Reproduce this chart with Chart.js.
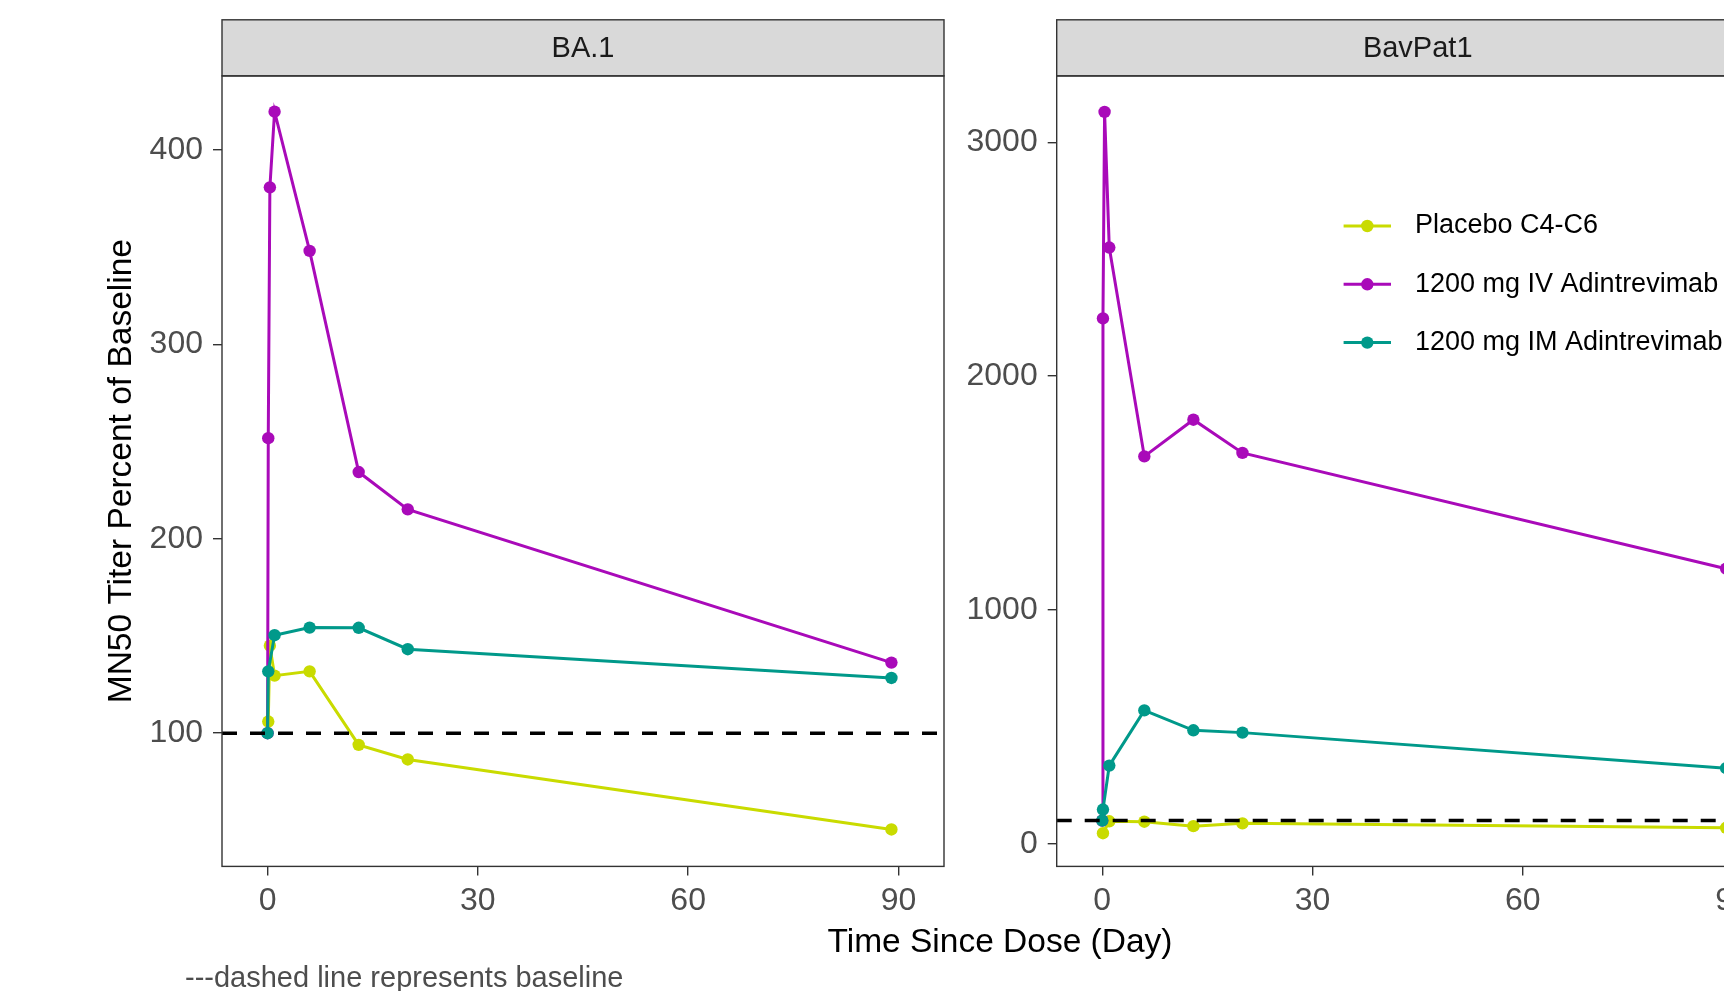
<!DOCTYPE html>
<html lang="en">
<head>
    <meta charset="UTF-8">
    <title>MN50 Titer Percent of Baseline</title>
    <script src="https://cdn.jsdelivr.net/npm/chart.js"></script>
    <style>
        html, body { margin: 0; padding: 0; background: #fff; }
        body { position: relative; width: 1724px; height: 991px; overflow: hidden;
               font-family: "Liberation Sans", Arial, Helvetica, sans-serif; }
        canvas { position: absolute; top: 0; }
        #xTitle { position: absolute; left: 1000px; top: 924px; transform: translateX(-50%);
                  font-size: 33.5px; line-height: 33.5px; color: #000; white-space: nowrap; }
        #caption { position: absolute; left: 185px; top: 963px; font-size: 29px;
                   line-height: 29px; color: #4d4d4d; white-space: nowrap; }
    </style>
</head>
<body>
    <canvas id="ba1Chart" width="1000" height="991" style="left:0px"></canvas>
    <canvas id="bavChart" width="860" height="991" style="left:940px"></canvas>
    <div id="xTitle">Time Since Dose (Day)</div>
    <div id="caption">---dashed line represents baseline</div>

    <script>
        // series names and colours
        const seriesNames = ['Placebo C4-C6', '1200 mg IV Adintrevimab', '1200 mg IM Adintrevimab'];
        const seriesColors = ['#c9db00', '#a90ab9', '#00998a'];

        // BA.1 panel (days since dose, percent of baseline)
        const ba1PlaceboDays = [0.1, 0.33, 1, 6, 13, 20, 89];
        const ba1PlaceboPct  = [106, 145, 129.6, 131.8, 94, 86.5, 50.5];
        const ba1IvDays = [0, 0.1, 0.33, 1, 6, 13, 20, 89];
        const ba1IvPct  = [100, 251.7, 380.7, 419.6, 348, 234.3, 215.1, 136.3];
        const ba1ImDays = [0, 0.1, 1, 6, 13, 20, 89];
        const ba1ImPct  = [100, 131.8, 150.4, 154.3, 154.2, 143.2, 128.4];

        // BavPat1 panel
        const bavPlaceboDays = [0.1, 1, 6, 13, 20, 89];
        const bavPlaceboPct  = [46, 97, 95, 76, 88, 69];
        const bavIvDays = [0, 0.1, 0.33, 1, 6, 13, 20, 89];
        const bavIvPct  = [100, 2247, 3130, 2550, 1657, 1814, 1672, 1177];
        const bavImDays = [0, 0.1, 1, 6, 13, 20, 89];
        const bavImPct  = [100, 147, 335, 571, 486, 476, 324];

        const baselinePct = 100;
        const xTicks = [0, 30, 60, 90];
        const ba1YTicks = [100, 200, 300, 400];
        const bavYTicks = [0, 1000, 2000, 3000];

        const FONT = '"Liberation Sans", Arial, Helvetica, sans-serif';
        Chart.defaults.font.family = FONT;
        Chart.defaults.animation = false;

        const LINE_W = 3;
        const DOT_R = 6.2;

        function pts(xs, ys) {
            return xs.map((x, i) => ({ x: x, y: ys[i] }));
        }

        // grey strip on top + panel border, like facet_wrap
        const panelFrame = {
            id: 'panelFrame',
            afterDraw(chart, args, o) {
                const ctx = chart.ctx;
                const a = chart.chartArea;
                ctx.save();
                ctx.fillStyle = '#d9d9d9';
                ctx.fillRect(a.left, o.stripTop, a.right - a.left, a.top - o.stripTop);
                ctx.strokeStyle = '#333333';
                ctx.lineWidth = 1.4;
                ctx.strokeRect(a.left, o.stripTop, a.right - a.left, a.top - o.stripTop);
                ctx.strokeRect(a.left, a.top, a.right - a.left, a.bottom - a.top);
                ctx.fillStyle = '#1a1a1a';
                ctx.font = '29px ' + FONT;
                ctx.textAlign = 'center';
                ctx.textBaseline = 'middle';
                ctx.fillText(o.label, (a.left + a.right) / 2, (o.stripTop + a.top) / 2 + 1);
                ctx.restore();
            }
        };

        const keyLegend = {
            id: 'keyLegend',
            afterDraw(chart, args, o) {
                if (!o.show) return;
                const ctx = chart.ctx;
                ctx.save();
                ctx.font = '27px ' + FONT;
                ctx.textAlign = 'left';
                ctx.textBaseline = 'middle';
                seriesNames.forEach((name, i) => {
                    const y = o.y + i * o.step;
                    ctx.strokeStyle = seriesColors[i];
                    ctx.lineWidth = LINE_W;
                    ctx.beginPath();
                    ctx.moveTo(o.x1, y);
                    ctx.lineTo(o.x2, y);
                    ctx.stroke();
                    ctx.fillStyle = seriesColors[i];
                    ctx.beginPath();
                    ctx.arc((o.x1 + o.x2) / 2, y, DOT_R, 0, Math.PI * 2);
                    ctx.fill();
                    ctx.fillStyle = '#000';
                    ctx.fillText(name, o.textX, y);
                });
                ctx.restore();
            }
        };

        function seriesSet(i, data, order) {
            return {
                label: seriesNames[i],
                data: data,
                borderColor: seriesColors[i],
                backgroundColor: seriesColors[i],
                borderWidth: LINE_W,
                pointRadius: DOT_R,
                pointBorderWidth: 0,
                pointBackgroundColor: seriesColors[i],
                tension: 0,
                order: order
            };
        }

        function makePanel(id, cfg) {
            const ctx = document.getElementById(id).getContext('2d');
            return new Chart(ctx, {
                type: 'line',
                data: {
                    datasets: [
                        seriesSet(0, cfg.placebo, 3),
                        seriesSet(1, cfg.iv, 2),
                        seriesSet(2, cfg.im, 1),
                        {
                            label: 'baseline',
                            data: [{ x: -6.5, y: baselinePct }, { x: 96.5, y: baselinePct }],
                            borderColor: '#000',
                            borderWidth: 3.4,
                            borderDash: [15, 13],
                            pointRadius: 0,
                            order: 0
                        }
                    ]
                },
                options: {
                    responsive: false,
                    events: [],
                    layout: { padding: { left: 0, top: 75.9, right: cfg.padRight, bottom: 0 } },
                    scales: {
                        x: {
                            type: 'linear',
                            position: 'bottom',
                            min: -6.5,
                            max: 96.5,
                            afterBuildTicks: s => { s.ticks = xTicks.map(v => ({ value: v })); },
                            afterFit: s => { s.height = 991 - 866.4; },
                            ticks: {
                                color: '#4d4d4d',
                                font: { size: 32 },
                                padding: 7,
                                maxRotation: 0,
                                callback: v => String(v)
                            },
                            grid: { drawOnChartArea: false, drawTicks: true, tickLength: 9, color: '#333333', lineWidth: 1.4 },
                            border: { display: false }
                        },
                        y: {
                            type: 'linear',
                            position: 'left',
                            min: cfg.yMin,
                            max: cfg.yMax,
                            afterBuildTicks: s => { s.ticks = cfg.yTicks.map(v => ({ value: v })); },
                            afterFit: s => { s.width = cfg.yWidth; },
                            ticks: {
                                color: '#4d4d4d',
                                font: { size: 32 },
                                padding: 10,
                                callback: v => String(v)
                            },
                            grid: { drawOnChartArea: false, drawTicks: true, tickLength: 9, color: '#333333', lineWidth: 1.4 },
                            border: { display: false },
                            title: {
                                display: cfg.yTitle,
                                text: 'MN50 Titer Percent of Baseline',
                                color: '#000',
                                font: { size: 33.5 },
                                padding: { top: 101.4, bottom: 0 }
                            }
                        }
                    },
                    plugins: {
                        legend: { display: false },
                        tooltip: { enabled: false },
                        panelFrame: { label: cfg.label, stripTop: 19.8 },
                        keyLegend: cfg.legend
                    }
                },
                plugins: [panelFrame, keyLegend]
            });
        }

        makePanel('ba1Chart', {
            label: 'BA.1',
            placebo: pts(ba1PlaceboDays, ba1PlaceboPct),
            iv: pts(ba1IvDays, ba1IvPct),
            im: pts(ba1ImDays, ba1ImPct),
            yMin: 31.5, yMax: 438,
            yTicks: ba1YTicks,
            yWidth: 222,
            padRight: 56,
            yTitle: true,
            legend: { show: false }
        });

        makePanel('bavChart', {
            label: 'BavPat1',
            placebo: pts(bavPlaceboDays, bavPlaceboPct),
            iv: pts(bavIvDays, bavIvPct),
            im: pts(bavImDays, bavImPct),
            yMin: -96, yMax: 3284,
            yTicks: bavYTicks,
            yWidth: 116.7,
            padRight: 21.3,
            yTitle: false,
            legend: { show: true, x1: 403.6, x2: 451, textX: 475, y: 226, step: 58.3 }
        });
    </script>
</body>

</html>
